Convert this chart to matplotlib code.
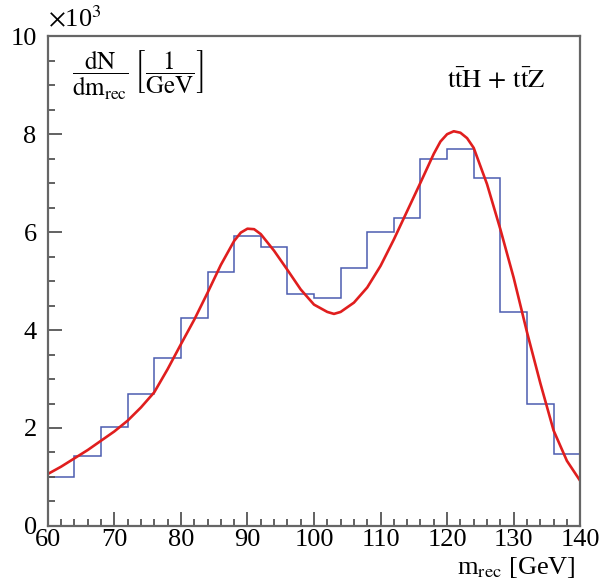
import numpy as np
import matplotlib
matplotlib.use("Agg")
import matplotlib.pyplot as plt
from matplotlib.ticker import MultipleLocator, FuncFormatter

# histogram: 4 GeV bins from 60 to 140
bin_edges = [60, 64, 68, 72, 76, 80, 84, 88, 92, 96, 100,
             104, 108, 112, 116, 120, 124, 128, 132, 136, 140]
counts = [1000, 1420, 2030, 2700, 3420, 4250, 5180, 5920, 5700, 4740,
          4660, 5270, 6000, 6290, 7500, 7700, 7110, 4370, 2480, 1460]

# fit curve
fit_m = [60, 62, 64, 66, 68, 70, 72, 74, 76, 78, 80, 82, 84, 86, 88, 89, 90, 91,
         92, 94, 96, 98, 100, 102, 103, 104, 106, 108, 110, 112, 114, 116, 118,
         119, 120, 121, 122, 123, 124, 126, 128, 130, 132, 134, 136, 138, 140]
fit_n = [1060, 1210, 1380, 1550, 1740, 1930, 2150, 2420, 2730, 3200, 3710, 4210,
         4760, 5330, 5820, 5990, 6070, 6060, 5960, 5620, 5230, 4830, 4520, 4370,
         4330, 4370, 4560, 4870, 5310, 5850, 6430, 7010, 7600, 7850, 8000, 8060,
         8030, 7920, 7720, 6980, 6060, 5070, 3960, 2920, 1950, 1330, 920]

plt.rcParams["font.family"] = ["Liberation Serif", "DejaVu Serif"]
plt.rcParams["mathtext.fontset"] = "stix"

fig = plt.figure(figsize=(6.05, 5.85), dpi=100)
ax = fig.add_axes([0.079, 0.101, 0.880, 0.837])

ax.stairs(counts, bin_edges, baseline=0, color="#4c5cb0", lw=1.1)
ax.plot(fit_m, fit_n, color="#e01e1e", lw=1.9)

ax.set_xlim(60, 140)
ax.set_ylim(0, 10000)

ax.xaxis.set_major_locator(MultipleLocator(10))
ax.xaxis.set_minor_locator(MultipleLocator(2))
ax.yaxis.set_major_locator(MultipleLocator(2000))
ax.yaxis.set_minor_locator(MultipleLocator(500))
ax.yaxis.set_major_formatter(FuncFormatter(lambda v, p: "%d" % round(v / 1000)))

ax.tick_params(which="both", direction="in", top=False, right=False,
               labelsize=19, color="#555555", width=1.3)
ax.tick_params(which="major", length=10)
ax.tick_params(which="minor", length=5)
ax.tick_params(axis="x", which="major", pad=2)
ax.tick_params(axis="y", which="major", pad=8)
for sp in ax.spines.values():
    sp.set_color("#666666")
    sp.set_linewidth(1.6)

fig.text(0.079, 0.945, r"$\times$10$^{3}$", fontsize=19, ha="left", va="bottom")

ax.text(0.045, 0.975,
        r"$\dfrac{\mathrm{dN}}{\mathrm{dm}_{\mathrm{rec}}}\;\left[\dfrac{1}{\mathrm{GeV}}\right]$",
        transform=ax.transAxes, fontsize=18, ha="left", va="top")
ax.text(0.935, 0.91, r"$\mathrm{t\bar{t}H\,+\,t\bar{t}Z}$",
        transform=ax.transAxes, fontsize=19, ha="right", va="center")

fig.text(0.952, 0.008, r"m$_{\mathrm{rec}}$ [GeV]", fontsize=19, ha="right", va="bottom")

fig.savefig("out.png", dpi=100)
